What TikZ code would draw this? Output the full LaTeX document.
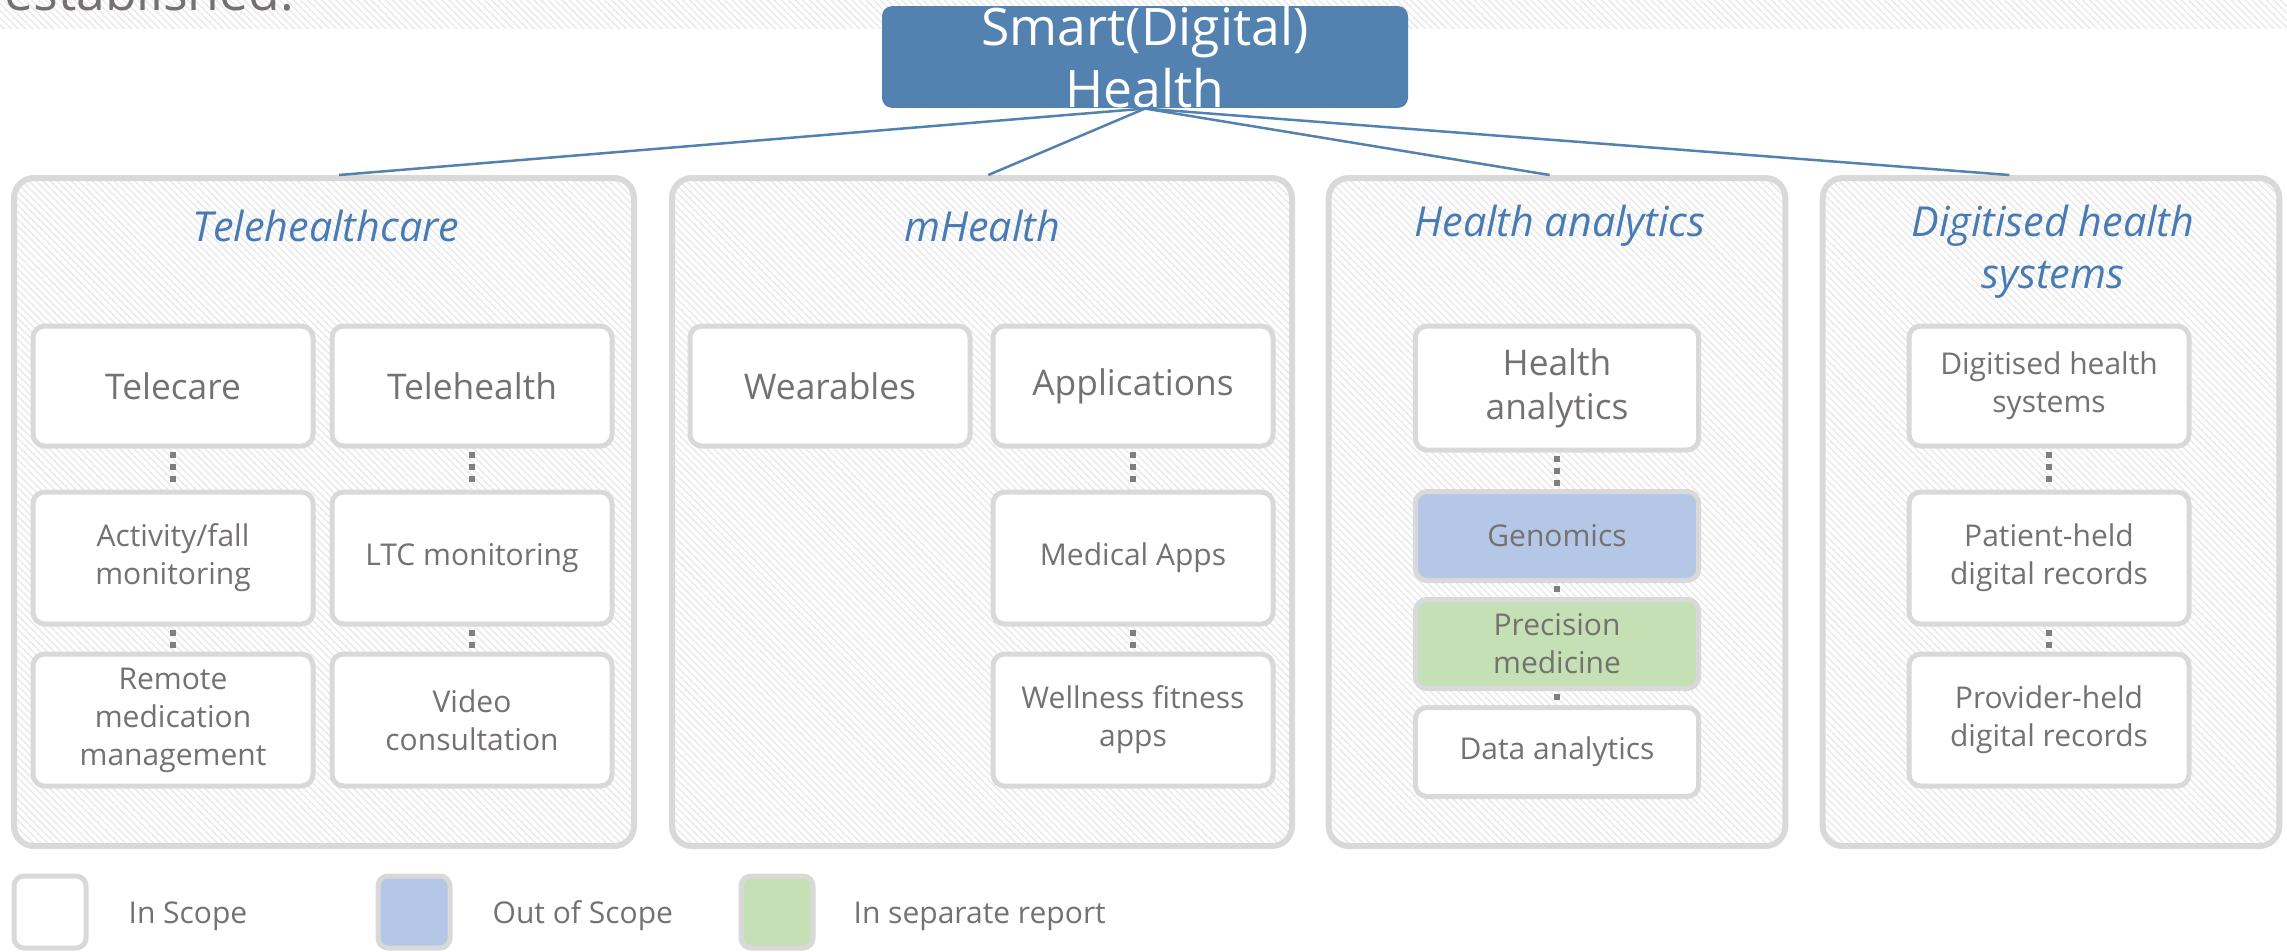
\documentclass[tikz,border=0pt]{standalone}
\usepackage{fontspec}
\setmainfont{Open Sans}
\usetikzlibrary{calc,patterns.meta}
\definecolor{hblue}{RGB}{83,130,176}
\definecolor{tblue}{RGB}{72,122,180}
\definecolor{txtgray}{RGB}{118,113,113}
\definecolor{rimgray}{RGB}{217,217,217}
\definecolor{dotgray}{RGB}{127,127,127}
\definecolor{outblue}{RGB}{180,199,231}
\definecolor{sepgreen}{RGB}{197,224,180}
\definecolor{hatch}{RGB}{234,234,234}
\begin{document}
\begin{tikzpicture}[x=0.3pt, y=-0.3pt,
	hatched/.style={pattern={Lines[angle=-45,distance=1.5pt,line width=0.45pt]}, pattern color=hatch},
	panel/.style={rectangle, rounded corners=6pt, line width=1.8pt, draw=rimgray, hatched,
		minimum height=200.4pt, inner sep=0pt},
	item/.style={rectangle, rounded corners=3.5pt, line width=1.5pt, draw=rimgray, fill=white,
		minimum width=84pt, text=txtgray, align=center, inner sep=0pt},
	big/.style={item, font=\fontsize{10.6}{13.2}\selectfont},
	small/.style={item, font=\fontsize{9}{11.4}\selectfont},
	ttl/.style={text=tblue, align=center, font=\fontsize{12.4}{15.6}\selectfont\itshape},
	dots/.style={dotgray, line width=1.8pt, dash pattern=on 1.8pt off 1.8pt, shorten <=1pt, shorten >=1pt},
	link/.style={hblue, line width=0.75pt},
	key/.style={rectangle, rounded corners=3pt, line width=1.5pt, draw=rimgray, minimum size=21.6pt, inner sep=0pt},
	keytext/.style={anchor=west, inner sep=0pt, text=txtgray, font=\fontsize{9}{11}\selectfont}]
	\useasboundingbox (0,0) rectangle (2287,951);
	\fill[hatched] (0,0) rectangle (2287,28);
	\node[anchor=base west, inner sep=0pt, text=txtgray, font=\fontsize{15.5}{16}\selectfont] (prev) at (4,10) {established.};
	\node[fill=hblue, rounded corners=3pt, minimum width=157.8pt, minimum height=30.3pt, inner sep=0pt,
		text=white, align=center, font=\fontsize{15.5}{18.6}\selectfont] (top) at (1145,57) {Smart(Digital)\\Health};

	% panels
	\node[panel, minimum width=186pt] (p1) at (324,512) {};
	\node[panel, minimum width=186pt] (p2) at (982,512) {};
	\node[panel, minimum width=137pt] (p3) at (1557,512) {};
	\node[panel, minimum width=137pt] (p4) at (2051,512) {};
	\node[ttl] (t1) at (326,226) {Telehealthcare};
	\node[ttl] (t2) at (982,226) {mHealth};
	\node[ttl] (t3) at (1560,226) {Health analytics};
	\node[ttl] (t4) at (2053,252) {Digitised health\\systems};

	\draw[link] (top.south) -- ($(p1.north west)!0.524!(p1.north east)$);
	\draw[link] (top.south) -- ($(p2.north west)!0.51!(p2.north east)$);
	\draw[link] (top.south) -- ($(p3.north west)!0.484!(p3.north east)$);
	\draw[link] (top.south) -- ($(p4.north west)!0.41!(p4.north east)$);

	% Telehealthcare
	\node[big, minimum height=36pt] (tc) at (173,386) {Telecare};
	\node[big, minimum height=36pt] (th) at (472,386) {Telehealth};
	\node[small, minimum height=39.6pt] (af) at (173,558) {Activity/fall\\monitoring};
	\node[small, minimum height=39.6pt] (ltc) at (472,558) {LTC monitoring};
	\node[small, minimum height=39.6pt] (rm) at (173,720) {Remote\\medication\\management};
	\node[small, minimum height=39.6pt] (vc) at (472,720) {Video\\consultation};
	% mHealth
	\node[big, minimum height=36pt] (wear) at (830,386) {Wearables};
	\node[big, minimum height=36pt] (apps) at (1133,386) {Applications};
	\node[small, minimum height=39.6pt] (med) at (1133,558) {Medical Apps};
	\node[small, minimum height=39.6pt] (well) at (1133,720) {Wellness fitness\\apps};
	% Health analytics
	\node[big, minimum width=85pt, minimum height=37.2pt] (ha) at (1557,388) {Health\\analytics};
	\node[small, minimum width=85pt, minimum height=26.7pt, fill=outblue] (gen) at (1557,536) {Genomics};
	\node[small, minimum width=85pt, minimum height=26.7pt, fill=sepgreen] (pm) at (1557,644) {Precision\\medicine};
	\node[small, minimum width=85pt, minimum height=26.7pt] (da) at (1557,752) {Data analytics};
	% Digitised health systems
	\node[small, minimum height=36pt] (dhs) at (2049,386) {Digitised health\\systems};
	\node[small, minimum height=39.6pt] (ph) at (2049,558) {Patient-held\\digital records};
	\node[small, minimum height=39.6pt] (pv) at (2049,720) {Provider-held\\digital records};

	\draw[dots] (tc.south) -- (af.north);
	\draw[dots] (af.south) -- (rm.north);
	\draw[dots] (th.south) -- (ltc.north);
	\draw[dots] (ltc.south) -- (vc.north);
	\draw[dots] (apps.south) -- (med.north);
	\draw[dots] (med.south) -- (well.north);
	\draw[dots] (ha.south) -- (gen.north);
	\draw[dots] (gen.south) -- (pm.north);
	\draw[dots] (pm.south) -- (da.north);
	\draw[dots] (dhs.south) -- (ph.north);
	\draw[dots] (ph.south) -- (pv.north);

	% legend
	\node[key, fill=white] (k1) at (50,912) {};
	\node[key, fill=outblue] (k2) at (414,912) {};
	\node[key, fill=sepgreen] (k3) at (777,912) {};
	\node[keytext] (l1) at (128,916) {In Scope};
	\node[keytext] (l2) at (492,916) {Out of Scope};
	\node[keytext] (l3) at (853,916) {In separate report};
\end{tikzpicture}
\end{document}
